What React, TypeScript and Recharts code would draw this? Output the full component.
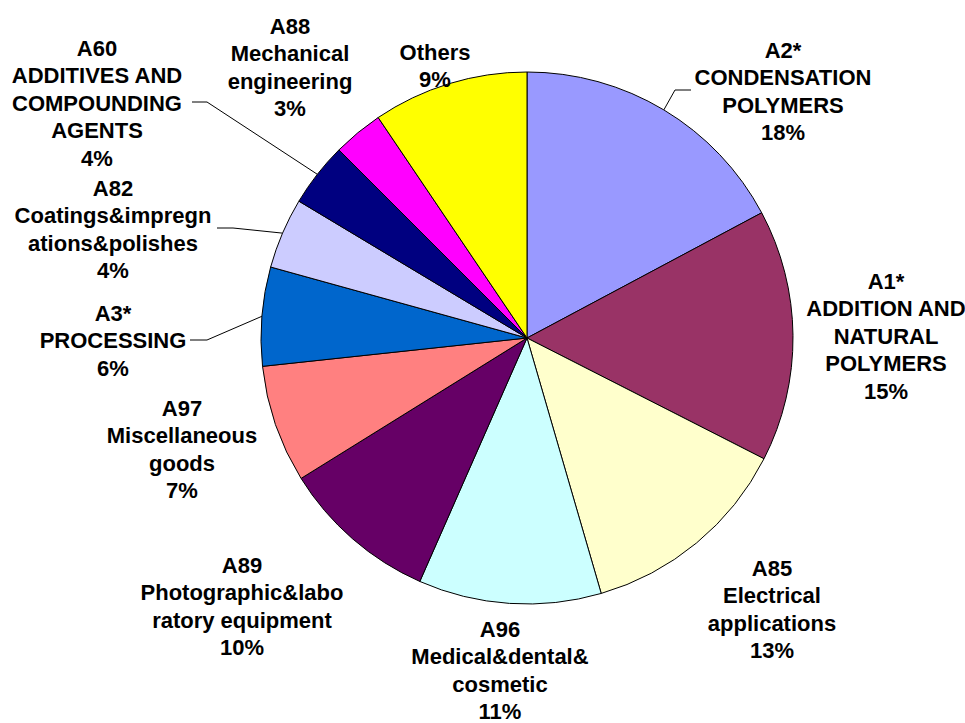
import React from 'react';
import { PieChart, Pie, Cell } from 'recharts';

const CODES = ['A2*', 'A1*', 'A85', 'A96', 'A89', 'A97', 'A3*', 'A82', 'A60', 'A88', 'Others'];
const DESCRIPTIONS = [
  ['CONDENSATION', 'POLYMERS'],
  ['ADDITION AND', 'NATURAL', 'POLYMERS'],
  ['Electrical', 'applications'],
  ['Medical&dental&', 'cosmetic'],
  ['Photographic&labo', 'ratory equipment'],
  ['Miscellaneous', 'goods'],
  ['PROCESSING'],
  ['Coatings&impregn', 'ations&polishes'],
  ['ADDITIVES AND', 'COMPOUNDING', 'AGENTS'],
  ['Mechanical', 'engineering'],
  [],
];
const SHARES = [17.2, 15.3, 13.0, 11.1, 9.55, 7.15, 6.0, 4.3, 3.9, 3.05, 9.45];
const PCT_LABELS = ['18%', '15%', '13%', '11%', '10%', '7%', '6%', '4%', '4%', '3%', '9%'];

const COLORS = [
  '#9999FF', '#993366', '#FFFFCC', '#CCFFFF', '#660066', '#FF8080',
  '#0066CC', '#CCCCFF', '#000080', '#FF00FF', '#FFFF00',
];

// where each label block sits (centre x, first line centre y) and optional leader elbow/end
const LABEL_LAYOUT: { x: number; y: number; elbow?: [number, number]; end?: [number, number] }[] = [
  { x: 783, y: 50, elbow: [675, 90], end: [691, 90] },
  { x: 886, y: 281 },
  { x: 772, y: 568 },
  { x: 500, y: 629 },
  { x: 242, y: 565 },
  { x: 182, y: 408 },
  { x: 113, y: 313, elbow: [207, 340], end: [190, 340] },
  { x: 113, y: 188, elbow: [233, 228], end: [217, 228] },
  { x: 97, y: 48, elbow: [207, 102], end: [192, 102] },
  { x: 290, y: 26 },
  { x: 435, y: 52 },
];

const data = CODES.map((code, i) => ({ name: code, value: SHARES[i] }));

const FONT_SIZE = 22;
const LINE_GAP = 27.4;
const RAD = Math.PI / 180;

function renderLabel(props: any) {
  const { cx, cy, midAngle, outerRadius, index } = props;
  const layout = LABEL_LAYOUT[index];
  const lines = [CODES[index], ...DESCRIPTIONS[index], PCT_LABELS[index]];
  const ex = cx + outerRadius * Math.cos(-midAngle * RAD);
  const ey = cy + outerRadius * Math.sin(-midAngle * RAD);
  return (
    <g key={`lbl-${index}`}>
      {layout.elbow && layout.end && (
        <polyline
          points={`${ex},${ey} ${layout.elbow[0]},${layout.elbow[1]} ${layout.end[0]},${layout.end[1]}`}
          fill="none"
          stroke="#000"
          strokeWidth={1}
        />
      )}
      <text
        textAnchor="middle"
        fontFamily="'Liberation Sans', Arial, sans-serif"
        fontWeight="bold"
        fontSize={FONT_SIZE}
        fill="#000"
      >
        {lines.map((ln, j) => (
          <tspan key={j} x={layout.x} y={layout.y + j * LINE_GAP + 8}>
            {ln}
          </tspan>
        ))}
      </text>
    </g>
  );
}

export default function App() {
  return (
    <div style={{ position: 'absolute', left: 0, top: 0, width: 965, height: 723, background: '#fff' }}>
      <PieChart width={965} height={723} margin={{ top: 0, right: 0, bottom: 0, left: 0 }}>
        <Pie
          data={data}
          dataKey="value"
          nameKey="name"
          cx={527}
          cy={338}
          outerRadius={266}
          startAngle={90}
          endAngle={-270}
          stroke="#000"
          strokeWidth={1}
          label={renderLabel}
          labelLine={false}
          isAnimationActive={false}
        >
          {data.map((_, i) => (
            <Cell key={i} fill={COLORS[i]} />
          ))}
        </Pie>
      </PieChart>
    </div>
  );
}
